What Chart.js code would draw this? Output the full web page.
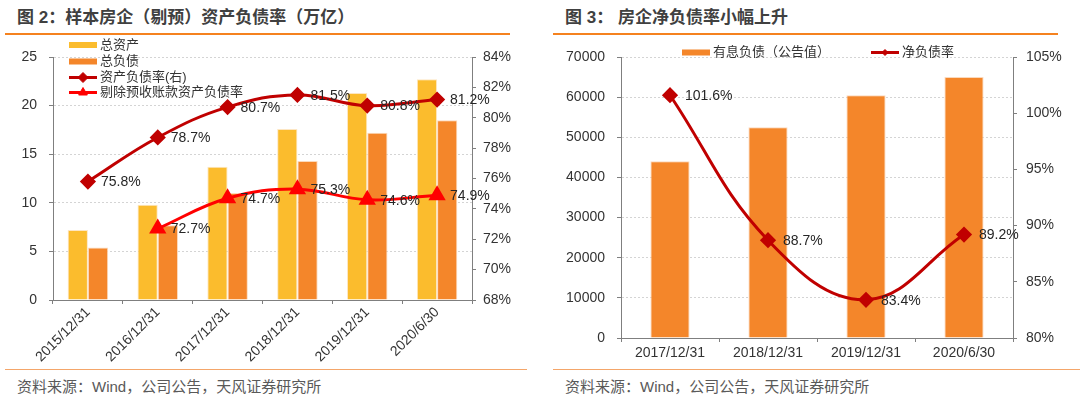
<!DOCTYPE html>
<html>
<head>
<meta charset="utf-8">
<script src="https://cdn.jsdelivr.net/npm/chart.js@4.4.0/dist/chart.umd.min.js"></script>
<style>
body { margin: 0; width: 1080px; height: 399px; background: #fff; position: relative; overflow: hidden;
  font-family: "Liberation Sans", "Noto Sans CJK SC", sans-serif; }
.title { position: absolute; top: 7px; font-size: 17px; line-height: 22px; font-weight: bold; color: #404040; white-space: pre; }
.topline { position: absolute; top: 33px; height: 2px; background: #F5821F; }
.botline { position: absolute; top: 369px; height: 1px; background: #F4A66A; }
.src { position: absolute; top: 376px; font-size: 15px; line-height: 22px; color: #595959; }
.box { position: absolute; top: 35px; width: 540px; height: 333px; }
</style>
</head>
<body>
<div class="title" style="left:17px">图 2：样本房企（剔预）资产负债率（万亿）</div>
<div class="topline" style="left:5px;width:505px"></div>
<div class="title" style="left:565px">图 3： 房企净负债率小幅上升</div>
<div class="topline" style="left:553px;width:505px"></div>

<div class="box" style="left:0"><canvas id="chart-left" width="540" height="333"></canvas></div>
<div class="box" style="left:540px"><canvas id="chart-right" width="540" height="333"></canvas></div>

<div class="botline" style="left:5px;width:522px"></div>
<div class="botline" style="left:553px;width:527px"></div>
<div class="src" style="left:17px">资料来源：Wind，公司公告，天风证券研究所</div>
<div class="src" style="left:565px">资料来源：Wind，公司公告，天风证券研究所</div>

<script>
const FONT = '"Liberation Sans", "Noto Sans CJK SC", sans-serif';

// 图2 data
const dates2 = ["2015/12/31", "2016/12/31", "2017/12/31", "2018/12/31", "2019/12/31", "2020/6/30"];
const totalAssets = [7.2, 9.8, 13.7, 17.6, 21.3, 22.7];
const totalLiab = [5.4, 7.7, 11.0, 14.3, 17.2, 18.5];
const debtRatio = [75.8, 78.7, 80.7, 81.5, 80.8, 81.2];
const debtRatioAdj = [null, 72.7, 74.7, 75.3, 74.6, 74.9];

// 图3 data
const dates3 = ["2017/12/31", "2018/12/31", "2019/12/31", "2020/6/30"];
const interestDebt = [44000, 52500, 60500, 65000];
const netDebtRatio = [101.6, 88.7, 83.4, 89.2];

const yellow = '#FBBC2D';
const orange = '#F4862A';
const darkred = '#C00000';
const red = '#FF0000';
const axisGrey = '#7f7f7f';

Chart.defaults.font.family = FONT;
Chart.defaults.font.size = 14;
Chart.defaults.color = '#333';

// value labels right of the line points
const pointLabels = {
    id: 'pointLabels',
    afterDatasetsDraw(chart, args, opts) {
        const ctx = chart.ctx;
        ctx.save();
        ctx.font = '14px ' + FONT;
        ctx.fillStyle = '#262626';
        ctx.textBaseline = 'middle';
        chart.data.datasets.forEach((ds, i) => {
            if (ds.type !== 'line') return;
            chart.getDatasetMeta(i).data.forEach((pt, j) => {
                const v = ds.data[j];
                if (v == null) return;
                ctx.fillText(v.toFixed(1) + '%', pt.x + opts.dx, pt.y + 1);
            });
        });
        ctx.restore();
    }
};

// legend placed by hand, like the excel one
const boxLegend = {
    id: 'boxLegend',
    afterDraw(chart, args, opts) {
        const ctx = chart.ctx;
        ctx.save();
        ctx.font = '13px ' + FONT;
        ctx.textBaseline = 'middle';
        chart.data.datasets.forEach((ds, i) => {
            const p = opts.items[i];
            if (ds.type === 'line') {
                ctx.strokeStyle = ds.borderColor;
                ctx.fillStyle = ds.borderColor;
                ctx.lineWidth = 3;
                ctx.beginPath();
                ctx.moveTo(p.x, p.y);
                ctx.lineTo(p.x + 28, p.y);
                ctx.stroke();
                ctx.lineWidth = 1;
                Chart.helpers.drawPoint(ctx, {pointStyle: ds.pointStyle, radius: opts.markerSize, borderWidth: 1, rotation: 0}, p.x + 14, p.y);
            } else {
                ctx.fillStyle = ds.backgroundColor;
                ctx.fillRect(p.x, p.y - 3, 28, 6);
            }
            ctx.fillStyle = '#333';
            ctx.fillText(ds.label, p.x + 31, p.y);
        });
        ctx.restore();
    }
};

new Chart(document.getElementById("chart-left"), {
    type: "bar",
    data: {
        labels: dates2,
        datasets: [
            {
                type: 'bar',
                label: "总资产",
                data: totalAssets,
                backgroundColor: yellow,
                borderColor: '#FDE6C2',
                borderWidth: 1,
                yAxisID: 'y',
                order: 1,
                categoryPercentage: 0.58,
                barPercentage: 1,
            },
            {
                type: 'bar',
                label: "总负债",
                data: totalLiab,
                backgroundColor: orange,
                borderColor: '#FBD9BC',
                borderWidth: 1,
                yAxisID: 'y',
                order: 1,
                categoryPercentage: 0.58,
                barPercentage: 1,
            },
            {
                type: 'line',
                label: "资产负债率(右)",
                data: debtRatio,
                borderColor: darkred,
                backgroundColor: darkred,
                borderWidth: 3,
                pointStyle: 'rectRot',
                pointRadius: 6,
                tension: 0.4,
                yAxisID: 'y1',
                order: 0,
            },
            {
                type: 'line',
                label: "剔除预收账款资产负债率",
                data: debtRatioAdj,
                borderColor: red,
                backgroundColor: red,
                borderWidth: 3,
                pointStyle: 'triangle',
                pointRadius: 7,
                tension: 0.4,
                yAxisID: 'y1',
                order: 0,
            },
        ],
    },
    options: {
        responsive: false,
        animation: false,
        layout: { padding: { top: 22, left: 0, right: 0, bottom: 0 } },
        plugins: {
            legend: { display: false },
            tooltip: { enabled: false },
            pointLabels: { dx: 13 },
            boxLegend: {
                markerSize: 5,
                items: [{x: 69, y: 10}, {x: 69, y: 26.5}, {x: 69, y: 42.5}, {x: 69, y: 57.5}]
            },
        },
        scales: {
            x: {
                grid: { offset: true, drawOnChartArea: false, tickLength: 4, tickColor: axisGrey },
                border: { color: axisGrey },
                ticks: { minRotation: 45, maxRotation: 45, padding: 0, autoSkip: false, color: '#333' },
                afterFit: (s) => { s.height = 68; },
            },
            y: {
                position: 'left',
                min: 0,
                max: 25,
                ticks: { stepSize: 5, padding: 12, color: '#333' },
                grid: { color: '#d4d4d4', tickLength: 4, tickColor: axisGrey },
                border: { color: axisGrey, dash: [2, 2] },
                afterFit: (s) => { s.width = 53; },
            },
            y1: {
                position: 'right',
                min: 68,
                max: 84,
                ticks: { stepSize: 2, padding: 7, color: '#333', callback: (v) => v + '%' },
                grid: { drawOnChartArea: false, tickLength: 4, tickColor: axisGrey },
                border: { color: axisGrey },
                afterFit: (s) => { s.width = 68; },
            },
        },
    },
    plugins: [pointLabels, boxLegend],
});

new Chart(document.getElementById("chart-right"), {
    type: "bar",
    data: {
        labels: dates3,
        datasets: [
            {
                type: 'bar',
                label: "有息负债（公告值）",
                data: interestDebt,
                backgroundColor: orange,
                borderColor: '#FBD9BC',
                borderWidth: 1,
                yAxisID: 'y',
                order: 1,
                categoryPercentage: 0.4,
                barPercentage: 1,
            },
            {
                type: 'line',
                label: "净负债率",
                data: netDebtRatio,
                borderColor: darkred,
                backgroundColor: darkred,
                borderWidth: 3,
                pointStyle: 'rectRot',
                pointRadius: 6,
                tension: 0.4,
                yAxisID: 'y1',
                order: 0,
            },
        ],
    },
    options: {
        responsive: false,
        animation: false,
        layout: { padding: { top: 22, left: 0, right: 0, bottom: 0 } },
        plugins: {
            legend: { display: false },
            tooltip: { enabled: false },
            pointLabels: { dx: 15 },
            boxLegend: {
                markerSize: 3,
                items: [{x: 142, y: 17.5}, {x: 331, y: 17.5}]
            },
        },
        scales: {
            x: {
                grid: { offset: true, drawOnChartArea: false, tickLength: 4, tickColor: axisGrey },
                border: { color: axisGrey },
                ticks: { maxRotation: 0, padding: 3, color: '#333' },
                afterFit: (s) => { s.height = 30; },
            },
            y: {
                position: 'left',
                min: 0,
                max: 70000,
                ticks: { stepSize: 10000, padding: 12, color: '#333', callback: (v) => String(v) },
                grid: { color: '#d4d4d4', tickLength: 4, tickColor: axisGrey },
                border: { color: axisGrey, dash: [2, 2] },
                afterFit: (s) => { s.width = 81; },
            },
            y1: {
                position: 'right',
                min: 80,
                max: 105,
                ticks: { stepSize: 5, padding: 9, color: '#333', callback: (v) => v + '%' },
                grid: { drawOnChartArea: false, tickLength: 4, tickColor: axisGrey },
                border: { color: axisGrey },
                afterFit: (s) => { s.width = 67; },
            },
        },
    },
    plugins: [pointLabels, boxLegend],
});
</script>
</body>
</html>
